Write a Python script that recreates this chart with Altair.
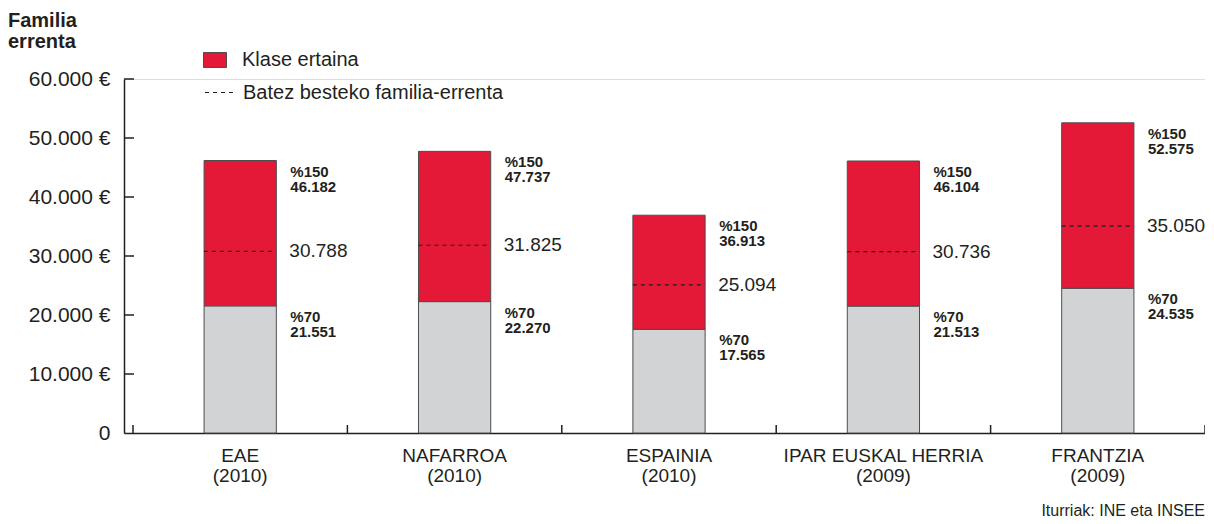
import altair as alt
import pandas as pd

categories = ["EAE|(2010)", "NAFARROA|(2010)", "ESPAINIA|(2010)",
              "IPAR EUSKAL HERRIA|(2009)", "FRANTZIA|(2009)"]
p70 = [21551, 22270, 17565, 21513, 24535]
p150 = [46182, 47737, 36913, 46104, 52575]
mean_income = [30788, 31825, 25094, 30736, 35050]
y_ticks = [0, 10000, 20000, 30000, 40000, 50000, 60000]
source_text = ["Iturriak: INE eta INSEE"]

W, H = 1081, 354
FONT = "Liberation Sans"
RED = "#E31937"
GRAY = "#D1D3D4"
INK = "#231F20"
EDGE = "#4D4D4F"

df = pd.DataFrame({"cat": categories, "p70": p70, "p150": p150, "mean": mean_income})
df["seg"] = "Klase ertaina"
df["mline"] = "Batez besteko familia-errenta"

fmt = "replace(format({}, ',d'), ',', '.')"

xscale = alt.Scale(domain=categories, paddingInner=0, paddingOuter=0.021, align=1)
yscale = alt.Scale(domain=[0, 60000], nice=False)

X = alt.X("cat:N", scale=xscale, sort=categories,
          axis=alt.Axis(title=None, ticks=False, domain=True, domainColor=INK, domainWidth=1.5,
                        labelExpr="split(datum.label, '|')", labelFont=FONT, labelFontSize=19,
                        labelColor=INK, labelPadding=13, labelLineHeight=20, labelAngle=0,
                        labelBaseline="top", labelLimit=400, labelOverlap=False))
Y = alt.Y("p70:Q", scale=yscale,
          axis=alt.Axis(title=None, ticks=False, grid=False, domain=True, domainColor=INK,
                        domainWidth=1.5, values=y_ticks, labelFont=FONT, labelFontSize=21,
                        labelColor=INK, labelPadding=14,
                        labelExpr="datum.value == 0 ? '0' : " + fmt.format("datum.value") + " + ' €'"))

base = alt.Chart(df)

gray_bars = base.mark_bar(width=alt.RelativeBandSize(0.337), color=GRAY, stroke=EDGE,
                          strokeWidth=1).encode(x=X, y=Y)

red_bars = base.mark_bar(width=alt.RelativeBandSize(0.337), stroke=EDGE, strokeWidth=1).encode(
    x=alt.X("cat:N", scale=xscale, sort=categories),
    y=alt.Y("p150:Q", scale=yscale),
    y2="p70:Q",
    color=alt.Color("seg:N", scale=alt.Scale(domain=["Klase ertaina"], range=[RED]),
                    legend=alt.Legend(title=None, orient="none", legendX=79, legendY=-31,
                                      padding=0, symbolType="M-1,-0.65H1V0.65H-1Z",
                                      symbolSize=529, symbolStrokeColor=EDGE,
                                      symbolStrokeWidth=1, symbolOpacity=1,
                                      labelFont=FONT, labelFontSize=20, labelColor=INK,
                                      labelOffset=15, labelLimit=500)),
)

mean_rules = base.mark_rule(strokeWidth=1.2, color=INK).encode(
    x=alt.X("cat:N", scale=xscale, sort=categories, bandPosition=0.3315),
    x2=alt.X2("cat", bandPosition=0.6685),
    y=alt.Y("mean:Q", scale=yscale),
    strokeDash=alt.StrokeDash("mline:N",
                              scale=alt.Scale(domain=["Batez besteko familia-errenta"],
                                              range=[[4, 4]]),
                              legend=alt.Legend(title=None, orient="none", legendX=80,
                                                legendY=-2, padding=0, symbolType="stroke",
                                                symbolSize=841, symbolStrokeColor=INK,
                                                symbolStrokeWidth=1.2,
                                                labelFont=FONT, labelFontSize=20,
                                                labelColor=INK, labelOffset=8,
                                                labelLimit=500)),
)

tick_df = pd.DataFrame({"v": y_ticks[1:]})
y_tick_marks = alt.Chart(tick_df).mark_rule(color=INK, strokeWidth=1.5).encode(
    y=alt.Y("v:Q", scale=yscale), x=alt.value(0), x2=alt.value(10))

x_tick_marks = base.mark_rule(color=INK, strokeWidth=1.5).encode(
    x=alt.X("cat:N", scale=xscale, sort=categories, bandPosition=0),
    y=alt.value(H - 8), y2=alt.value(H))
x_tick_last = base.transform_filter(
    alt.datum.cat == categories[-1]).mark_rule(color=INK, strokeWidth=1.5).encode(
    x=alt.X("cat:N", scale=xscale, sort=categories, bandPosition=1),
    y=alt.value(H - 8), y2=alt.value(H))

top_labels = base.transform_calculate(
    lab="'%150\\n' + " + fmt.format("datum.p150")
).mark_text(align="left", baseline="top", dx=14, dy=4, font=FONT, fontSize=15,
            fontWeight="bold", color=INK, lineBreak="\n", lineHeight=15).encode(
    x=alt.X("cat:N", scale=xscale, sort=categories, bandPosition=0.6685),
    y=alt.Y("p150:Q", scale=yscale), text="lab:N")

low_labels = base.transform_calculate(
    lab="'%70\\n' + " + fmt.format("datum.p70")
).mark_text(align="left", baseline="top", dx=14, dy=4, font=FONT, fontSize=15,
            fontWeight="bold", color=INK, lineBreak="\n", lineHeight=15).encode(
    x=alt.X("cat:N", scale=xscale, sort=categories, bandPosition=0.6685),
    y=alt.Y("p70:Q", scale=yscale), text="lab:N")

mean_labels = base.transform_calculate(
    lab=fmt.format("datum.mean")
).mark_text(align="left", baseline="middle", dx=13, font=FONT, fontSize=19,
            color=INK).encode(
    x=alt.X("cat:N", scale=xscale, sort=categories, bandPosition=0.6685),
    y=alt.Y("mean:Q", scale=yscale), text="lab:N")

source = alt.Chart(pd.DataFrame({"t": source_text})).mark_text(
    align="right", baseline="alphabetic", font=FONT, fontSize=16, color=INK).encode(
    x=alt.value(W), y=alt.value(H + 83), text="t:N")

chart = alt.layer(
    gray_bars, red_bars, mean_rules, y_tick_marks, x_tick_marks, x_tick_last,
    top_labels, low_labels, mean_labels, source
).resolve_legend(color="independent", strokeDash="independent").properties(
    width=W, height=H,
    autosize=alt.AutoSizeParams(type="none"),
    padding={"left": 116, "top": 71, "right": 0, "bottom": 88},
    title=alt.TitleParams(["Familia", "errenta"], anchor="start", frame="group",
                          font=FONT, fontSize=20, fontWeight="bold", color=INK,
                          dx=-116, dy=8, lineHeight=21),
).configure_view(stroke=None).configure(background="white")

chart.save("out.html", embed_options={"renderer": "svg", "actions": False})
